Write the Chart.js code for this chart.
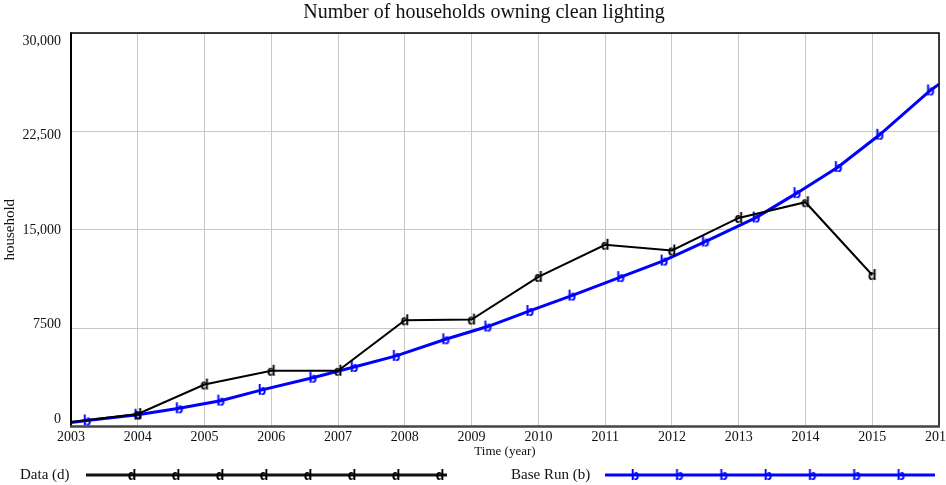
<!DOCTYPE html>
<html>
<head>
<meta charset="utf-8">
<script src="https://cdn.jsdelivr.net/npm/chart.js@4/dist/chart.umd.min.js"></script>
<style>
  html, body { margin: 0; padding: 0; background: #ffffff; }
  #wrap { width: 946px; height: 485px; }
</style>
</head>
<body>
<div id="wrap"><canvas id="c" width="946" height="485"></canvas></div>
<script>
// Observed data, one value per year
const dataYears  = [2003, 2004, 2005, 2006, 2007, 2008, 2009, 2010, 2011, 2012, 2013, 2014, 2015];
const dataValues = [350, 950, 3200, 4250, 4250, 8100, 8150, 11400, 13850, 13420, 15900, 17100, 11550];

// Simulated base run, sampled along the curve
const baseTimes  = [2003, 2003.24, 2004, 2004.62, 2005.24, 2005.86, 2006.62, 2007.24, 2007.87, 2008.61, 2009.24,
                    2009.87, 2010.5, 2011.23, 2011.88, 2012.5, 2013.26, 2013.87, 2014.49, 2015.11, 2015.87, 2016];
const baseValues = [300, 460, 900, 1390, 1970, 2790, 3720, 4540, 5380, 6650, 7620,
                    8810, 9980, 11390, 12650, 14100, 15930, 17790, 19780, 22240, 25620, 26100];
const baseMarked = [0, 1, 1, 1, 1, 1, 1, 1, 1, 1, 1, 1, 1, 1, 1, 1, 1, 1, 1, 1, 1, 0];

// Axis ticks
const xTickValues = [2003, 2004, 2005, 2006, 2007, 2008, 2009, 2010, 2011, 2012, 2013, 2014, 2015, 2016];
const yTickValues = [0, 7500, 15000, 22500, 30000];
const yTickLabels = ['0', '7500', '15,000', '22,500', '30,000'];

const titleText = 'Number of households owning clean lighting';
const xTitle = 'Time (year)';
const yTitle = 'household';
const seriesNames = ['Data (d)', 'Base Run (b)'];

const SERIF = "'Liberation Serif', 'Times New Roman', serif";
const BLUE = '#0000ff';

// Letter markers used on the lines and in the legend
function letterMark(ch, color) {
  const c = document.createElement('canvas');
  c.width = 16; c.height = 18;
  const g = c.getContext('2d');
  g.font = "bold 14px 'Liberation Sans', Arial, sans-serif";
  g.fillStyle = color;
  g.textAlign = 'center';
  g.textBaseline = 'alphabetic';
  g.fillText(ch, 8, 9 + 5.1);
  return c;
}
const dMark = letterMark('d', '#000000');
const bMark = letterMark('b', BLUE);

const decorations = {
  id: 'decorations',
  afterDraw(chart) {
    const ctx = chart.ctx;
    const a = chart.chartArea;
    const xs = chart.scales.x, ys = chart.scales.y;
    ctx.save();

    // frame
    ctx.lineCap = 'butt';
    ctx.strokeStyle = '#000';
    ctx.lineWidth = 1.5;
    ctx.beginPath();
    ctx.moveTo(a.left, a.top); ctx.lineTo(a.right, a.top); ctx.lineTo(a.right, a.bottom);
    ctx.stroke();
    ctx.lineWidth = 2;
    ctx.beginPath(); ctx.moveTo(a.left, a.top - 0.75); ctx.lineTo(a.left, a.bottom); ctx.stroke();
    ctx.strokeStyle = '#454545';
    ctx.lineWidth = 2.5;
    ctx.beginPath(); ctx.moveTo(a.left - 1, a.bottom); ctx.lineTo(a.right + 1, a.bottom); ctx.stroke();

    ctx.fillStyle = '#111';
    // title
    ctx.font = '20px ' + SERIF;
    ctx.textAlign = 'center';
    ctx.textBaseline = 'middle';
    ctx.fillText(titleText, 484, 13);

    // y tick labels, spread slightly inward from the frame edges
    ctx.font = '14px ' + SERIF;
    ctx.textAlign = 'right';
    yTickValues.forEach((v, i) => {
      const y = ys.getPixelForValue(v) + 8 - 15.5 * (30000 - v) / 30000;
      ctx.fillText(yTickLabels[i], 61, y);
    });

    // x tick labels
    ctx.textAlign = 'center';
    xTickValues.forEach(v => {
      ctx.fillText(String(v), xs.getPixelForValue(v), 437);
    });

    // axis titles
    ctx.font = '13px ' + SERIF;
    ctx.fillText(xTitle, (a.left + a.right) / 2, 452);
    ctx.save();
    ctx.translate(10, (a.top + a.bottom) / 2);
    ctx.rotate(-Math.PI / 2);
    ctx.font = '15px ' + SERIF;
    ctx.fillText(yTitle, 0, 0);
    ctx.restore();

    // legend
    const ly = 475;
    ctx.font = '15px ' + SERIF;
    ctx.textAlign = 'left';
    ctx.fillText(seriesNames[0], 20, ly);
    ctx.fillText(seriesNames[1], 511, ly);

    ctx.lineWidth = 3;
    ctx.strokeStyle = '#111';
    ctx.beginPath(); ctx.moveTo(86, ly); ctx.lineTo(447, ly); ctx.stroke();
    for (let k = 0; k < 8; k++) {
      ctx.drawImage(dMark, 132 + 44 * k - 8, ly - 9);
    }
    ctx.strokeStyle = BLUE;
    ctx.beginPath(); ctx.moveTo(605, ly); ctx.lineTo(935, ly); ctx.stroke();
    for (let k = 0; k < 7; k++) {
      ctx.drawImage(bMark, 635 + 44.3 * k - 8, ly - 9);
    }
    ctx.restore();
  }
};

new Chart(document.getElementById('c'), {
  type: 'line',
  data: {
    datasets: [
      {
        label: seriesNames[1],
        data: baseTimes.map((t, i) => ({ x: t, y: baseValues[i] })),
        borderColor: BLUE,
        borderWidth: 3,
        tension: 0,
        pointStyle: bMark,
        pointRadius: c => baseMarked[c.dataIndex] ? 5 : 0,
        order: 1
      },
      {
        label: seriesNames[0],
        data: dataYears.map((t, i) => ({ x: t, y: dataValues[i] })),
        borderColor: '#000000',
        borderWidth: 2,
        tension: 0,
        pointStyle: dMark,
        pointRadius: c => c.dataIndex === 0 ? 0 : 5,
        order: 0
      }
    ]
  },
  options: {
    responsive: false,
    animation: false,
    events: [],
    layout: { padding: { left: 71, top: 33, right: 3, bottom: 58.5 } },
    plugins: {
      legend: { display: false },
      title: { display: false },
      tooltip: { enabled: false }
    },
    scales: {
      x: {
        type: 'linear', min: 2003, max: 2016,
        afterBuildTicks: s => { s.ticks = xTickValues.map(v => ({ value: v })); },
        ticks: { display: false },
        grid: { color: '#c8c8c8', lineWidth: 1, drawTicks: false },
        border: { display: false }
      },
      y: {
        type: 'linear', min: 0, max: 30000,
        afterBuildTicks: s => { s.ticks = yTickValues.map(v => ({ value: v })); },
        ticks: { display: false },
        grid: { color: '#c8c8c8', lineWidth: 1, drawTicks: false },
        border: { display: false }
      }
    }
  },
  plugins: [decorations]
});
</script>
</body>
</html>
